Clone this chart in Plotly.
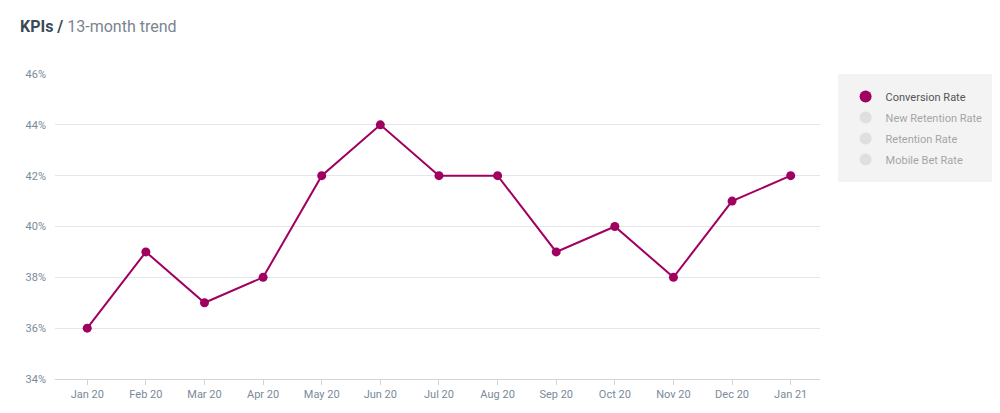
import plotly.graph_objects as go

months = ["Jan 20","Feb 20","Mar 20","Apr 20","May 20","Jun 20","Jul 20","Aug 20","Sep 20","Oct 20","Nov 20","Dec 20","Jan 21"]
conversion = [36, 39, 37, 38, 42, 44, 42, 42, 39, 40, 38, 41, 42]
hidden_series = ["New Retention Rate", "Retention Rate", "Mobile Bet Rate"]
y_ticks = [34, 36, 38, 40, 42, 44, 46]

fig = go.Figure()
fig.add_trace(go.Scatter(x=months, y=conversion, name="Conversion Rate", mode="lines+markers",
                         legendgroup="c", showlegend=False,
                         line=dict(color="#a0005f", width=2), marker=dict(size=9, color="#a0005f")))
fig.add_trace(go.Scatter(x=[months[0]], y=[None], name="Conversion Rate", mode="markers",
                         legendgroup="c", marker=dict(size=9, color="#a0005f")))
for n in hidden_series:
    fig.add_trace(go.Scatter(x=[months[0]], y=[None], name=n, mode="markers",
                             marker=dict(size=9, color="#cccccc"), visible="legendonly"))

fig.update_layout(
    width=1000, height=413, paper_bgcolor="white", plot_bgcolor="white",
    margin=dict(l=47, r=180, t=66, b=42),
    font=dict(family="Roboto", size=11, color="#7a8a99"),
    xaxis=dict(range=[-0.55, 12.5], showgrid=False, showline=True, linecolor="#d0d5da",
               ticks="outside", ticklen=5, tickcolor="#d0d5da", automargin=False),
    yaxis=dict(range=[34, 46], tickvals=y_ticks, ticktext=[f"{v}%" for v in y_ticks],
               gridcolor="#e3e6ea", zeroline=False, ticklabelstandoff=8, automargin=False),
    legend=dict(x=1.023, y=1, xanchor="left", yanchor="top", bgcolor="#f3f3f3",
                font=dict(size=11, color="#555555"), itemsizing="constant",
                tracegroupgap=2, borderwidth=8, bordercolor="#f3f3f3", itemwidth=30),
)
fig.add_annotation(x=(10-47)/773, y=1+(66-7)/305, xref="paper", yref="paper", xanchor="left", yanchor="top",
                   text="<b><span style='color:#3a4a58'>KPIs /</span></b><span style='color:#7a8590'> 13-month trend</span>",
                   showarrow=False, font=dict(size=16, family="Roboto"))
fig.write_html("out.html")
